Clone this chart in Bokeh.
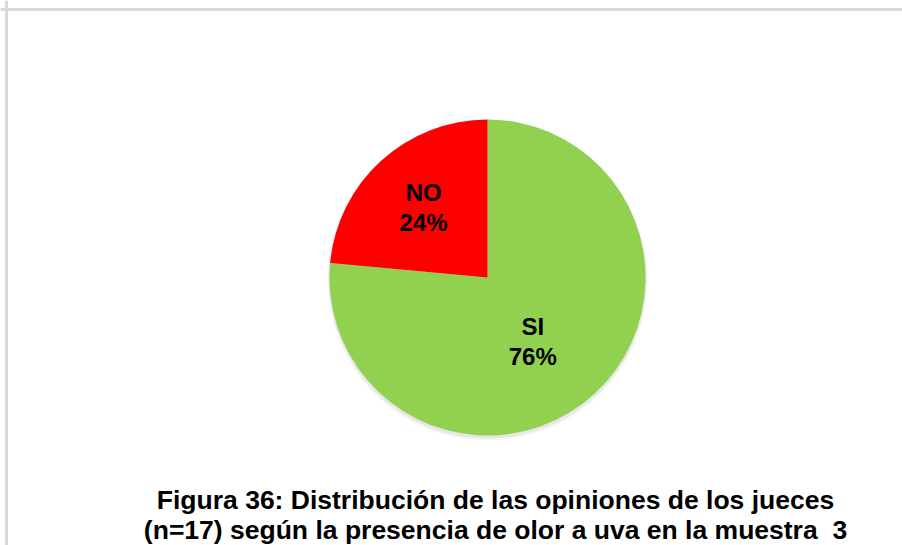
import math
from bokeh.plotting import figure
from bokeh.models import Range1d, Span, ColumnDataSource
from bokeh.core.properties import value
from bokeh.embed import file_html
from bokeh.resources import INLINE

# ---- data ----
categories = ["SI", "NO"]
counts = [13, 4]            # n = 17 judges
colors = ["#92D050", "#FF0000"]
label_fracs = [0.5, 0.6]
label_dx = [-8, 0]
label_dy = [-6, 0]
title_lines = [
    "Figura 36: Distribución de las opiniones de los jueces",
    "(n=17) según la presencia de olor a uva en la muestra \u00a03",
]

W, H = 902, 545
p = figure(width=W, height=H, output_backend="svg", toolbar_location=None,
           x_range=Range1d(0, W), y_range=Range1d(0, H),
           x_axis_type=None, y_axis_type=None, min_border=0)
p.outline_line_color = None
p.background_fill_color = "white"
p.border_fill_color = "white"

# chart frame (left and top edges visible)
p.add_layout(Span(location=6, dimension="height", line_color="#d9d9d9", line_width=3))
p.add_layout(Span(location=H - 9, dimension="width", line_color="#d9d9d9", line_width=3))

cx, cy, R = 487, 268, 158

# soft shadow
p.circle(x=[cx], y=[cy - 2], radius=R + 1, fill_color="#000000", fill_alpha=0.06, line_color=None)
p.circle(x=[cx], y=[cy - 3], radius=R + 2, fill_color="#000000", fill_alpha=0.04, line_color=None)

total = sum(counts)
starts, ends, lx, ly, ltext = [], [], [], [], []
cum = 0.0
for cat, c, f, dx, dy in zip(categories, counts, label_fracs, label_dx, label_dy):
    a0 = cum / total * 2 * math.pi
    cum += c
    a1 = cum / total * 2 * math.pi
    starts.append(math.pi / 2 - a0)
    ends.append(math.pi / 2 - a1)
    mid = (a0 + a1) / 2
    lx.append(cx + f * R * math.sin(mid) + dx)
    ly.append(cy + f * R * math.cos(mid) + dy)
    ltext.append(f"{cat}\n{round(100 * c / total)}%")

src = ColumnDataSource(dict(start=starts, end=ends, color=colors,
                            lx=lx, ly=ly, text=ltext, cat=categories))
p.wedge(x=cx, y=cy, radius=R, start_angle="start", end_angle="end",
        direction="clock", fill_color="color", line_color=None, source=src)

p.text(x="lx", y="ly", text="text", source=src, text_align="center",
       text_baseline="middle", text_font=value("Liberation Sans"),
       text_font_style="bold", text_font_size="24px", text_color="black",
       text_line_height=1.12)

p.text(x=[495, 495], y=[46, 16], text=title_lines, text_align="center",
       text_baseline="alphabetic", text_font=value("Liberation Sans"),
       text_font_style="bold", text_font_size="26.5px", text_color="black")

open("out.html", "w").write(file_html(p, INLINE))
